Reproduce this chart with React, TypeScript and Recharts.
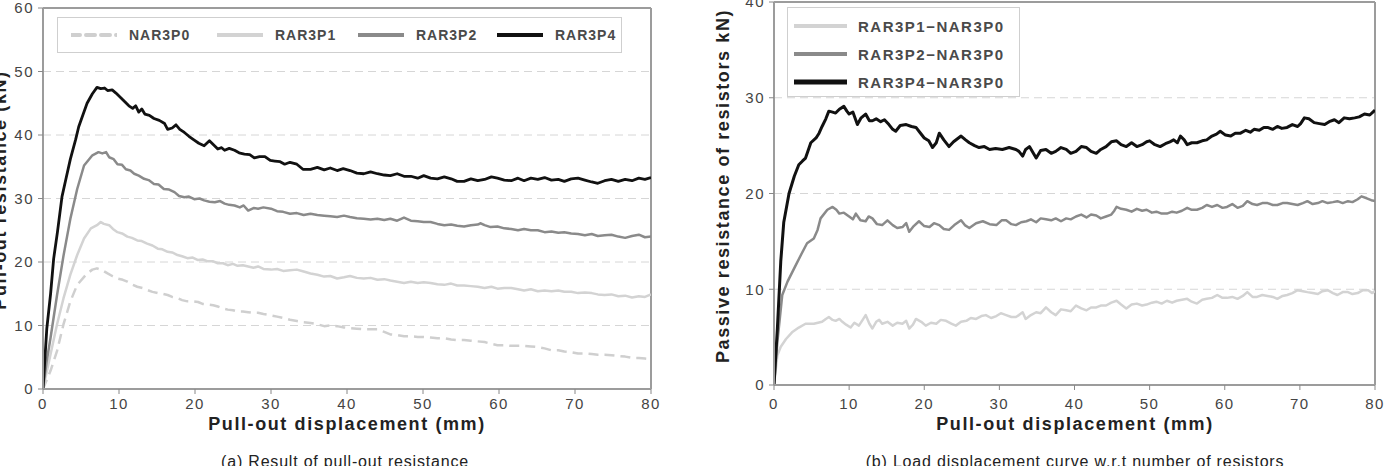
import React from "react";
import { LineChart, Line, XAxis, YAxis, CartesianGrid, ReferenceLine } from "recharts";

// ---------- Data: (a) pull-out resistance, [displacement mm, load kN] ----------
const nar3p0 = [
  [0, 0], [1, 2.9], [1.85, 6], [2.7, 10.2], [3.6, 13.8], [4.5, 16.4], [5.8, 18.2], [6.5, 18.8], [7.1, 19.0], [7.8, 18.7],
  [8.5, 18.2], [9.1, 17.8], [9.8, 17.4], [10.5, 17.2], [11.1, 16.9], [11.8, 16.4], [12.4, 16.1], [13.1, 15.9], [13.7, 15.6],
  [14.4, 15.3], [15.1, 15.1], [15.7, 15.0], [16.4, 14.8], [17.0, 14.5], [17.7, 14.3], [18.3, 14.0], [19.0, 13.8], [19.7, 13.8],
  [20.4, 13.7], [21.0, 13.4], [21.7, 13.3], [22.4, 13.2], [23.0, 13.0], [23.7, 12.7], [24.3, 12.5], [25.0, 12.4], [25.6, 12.2],
  [26.3, 12.2], [27.0, 12.1], [27.7, 12.0], [28.3, 12.0], [29.0, 11.8], [30.0, 11.6], [30.8, 11.4], [31.6, 11.2], [32.5, 10.9],
  [33.4, 10.7], [34.3, 10.5], [35.2, 10.4], [36.1, 10.2], [37.0, 9.9], [37.8, 10.0], [38.7, 9.9], [39.6, 9.7], [40.4, 9.6],
  [41.3, 9.5], [42.2, 9.4], [43.1, 9.4], [44.0, 9.4], [44.9, 9.0], [45.7, 8.6], [46.6, 8.5], [47.5, 8.3], [48.4, 8.3], [49.3, 8.2],
  [50.1, 8.2], [51.0, 8.1], [51.9, 8.0], [52.8, 8.0], [53.7, 7.8], [54.5, 7.7], [55.4, 7.7], [56.3, 7.6], [57.2, 7.5], [58.1, 7.4],
  [59.0, 7.1], [59.8, 6.9], [60.7, 6.9], [61.6, 6.8], [62.5, 6.8], [63.3, 6.8], [64.2, 6.7], [65.1, 6.6], [66.0, 6.4], [66.9, 6.1],
  [67.8, 6.1], [68.6, 5.9], [69.5, 5.8], [70.4, 5.6], [71.3, 5.6], [72.2, 5.5], [73.0, 5.4], [73.9, 5.4], [74.8, 5.3], [75.7, 5.2],
  [76.6, 5.1], [77.5, 4.9], [78.4, 4.9], [79.2, 4.8], [80, 4.7],
];
const rar3p1 = [
  [0, 0], [1, 5.5], [1.85, 10.2], [2.7, 14.3], [3.6, 18], [4.5, 21.1], [5.4, 23.7], [6.3, 25.3], [7.1, 25.8], [7.6, 26.3],
  [8.0, 26.0], [8.7, 25.8], [9.2, 25.2], [9.8, 24.7], [10.4, 24.5], [11.1, 24.0], [11.7, 23.8], [12.4, 23.4], [13.0, 23.3],
  [13.7, 22.9], [14.4, 22.6], [15.1, 22.1], [15.7, 22.0], [16.4, 21.6], [17.0, 21.5], [17.7, 21.1], [18.3, 20.9], [19.0, 20.6],
  [19.7, 20.7], [20.4, 20.3], [21.0, 20.4], [21.7, 20.1], [22.4, 20.1], [23.0, 19.8], [23.7, 19.8], [24.3, 19.5], [25.0, 19.7],
  [25.6, 19.4], [26.3, 19.5], [27.0, 19.3], [27.7, 19.1], [28.3, 19.3], [29.0, 18.9], [30.0, 18.8], [30.8, 18.9], [31.6, 18.6],
  [32.5, 18.7], [33.4, 18.8], [34.3, 18.5], [35.2, 18.2], [36.1, 18.0], [37.0, 17.7], [37.8, 17.8], [38.7, 17.4], [39.6, 17.6],
  [40.4, 17.8], [41.3, 17.5], [42.2, 17.4], [43.1, 17.5], [44.0, 17.2], [44.9, 17.3], [45.7, 17.1], [46.6, 16.9], [47.5, 16.7],
  [48.4, 16.9], [49.3, 16.7], [50.1, 16.8], [51.0, 16.7], [51.9, 16.5], [52.8, 16.4], [53.7, 16.6], [54.5, 16.3], [55.4, 16.3],
  [56.3, 16.2], [57.2, 16.1], [58.1, 15.9], [59.0, 16.1], [59.8, 15.8], [60.7, 15.9], [61.6, 15.9], [62.5, 15.7], [63.3, 15.5],
  [64.2, 15.7], [65.1, 15.4], [66.0, 15.5], [66.9, 15.4], [67.8, 15.5], [68.6, 15.3], [69.5, 15.3], [70.4, 15.1], [71.3, 15.2],
  [72.2, 15.1], [73.0, 14.9], [73.9, 14.8], [74.8, 14.9], [75.7, 14.6], [76.6, 14.7], [77.5, 14.4], [78.4, 14.6], [79.2, 14.5],
  [80, 14.9],
];
const rar3p2 = [
  [0, 0], [0.5, 4.5], [1, 8.1], [1.85, 14.8], [2.7, 21], [3.6, 26.8], [4.5, 31.5], [5.4, 35.2], [6.5, 36.8], [7.3, 37.3],
  [7.8, 37.1], [8.3, 37.3], [8.7, 36.5], [9.3, 36.2], [9.8, 35.4], [10.4, 35.3], [10.9, 34.6], [11.5, 34.4], [12.0, 33.9],
  [12.6, 33.6], [13.3, 33.1], [13.9, 32.9], [14.6, 32.3], [15.2, 32.2], [15.9, 31.5], [16.6, 31.4], [17.3, 31.0], [17.9, 30.4],
  [18.6, 30.2], [19.2, 30.3], [19.9, 29.9], [20.6, 30.0], [21.2, 29.7], [21.9, 29.5], [22.6, 29.4], [23.3, 29.6], [23.9, 29.2],
  [24.5, 29.0], [25.2, 28.9], [25.9, 28.6], [26.4, 28.9], [27.0, 28.1], [27.7, 28.5], [28.3, 28.4], [29.0, 28.6], [30.0, 28.4],
  [30.8, 28.0], [31.6, 27.9], [32.5, 27.6], [33.4, 27.7], [34.3, 27.4], [35.2, 27.6], [36.1, 27.4], [37.0, 27.3], [37.8, 27.2],
  [38.7, 27.1], [39.6, 27.3], [40.4, 27.1], [41.3, 26.9], [42.2, 26.8], [43.1, 26.7], [44.0, 26.8], [44.9, 26.6], [45.7, 26.8],
  [46.6, 26.5], [47.5, 27.0], [48.4, 26.5], [49.3, 26.4], [50.1, 26.3], [51.0, 26.3], [51.9, 26.0], [52.8, 25.8], [53.7, 25.9],
  [54.5, 25.7], [55.4, 25.6], [56.3, 25.8], [57.2, 25.9], [57.6, 26.1], [58.1, 25.8], [58.9, 25.5], [59.8, 25.6], [60.7, 25.3],
  [61.6, 25.2], [62.5, 25.0], [63.3, 25.2], [64.2, 25.0], [65.1, 25.0], [66.0, 24.7], [66.9, 24.8], [67.8, 24.6], [68.6, 24.7],
  [69.5, 24.5], [70.4, 24.4], [71.3, 24.2], [72.2, 24.4], [73.0, 24.1], [73.9, 24.2], [74.8, 24.3], [75.7, 24.0], [76.6, 23.8],
  [77.5, 24.1], [78.4, 24.3], [79.2, 23.9], [80, 24.0],
];
const rar3p4 = [
  [0, 0], [0.5, 9.5], [1, 15], [1.4, 20.5], [1.9, 24.7], [2.5, 30.3], [3, 33], [3.6, 36.2], [4.3, 39.3], [4.7, 41.3], [5.2, 43],
  [5.8, 45], [6.5, 46.5], [7.1, 47.5], [7.6, 47.3], [8.1, 47.4], [8.5, 47.0], [9.1, 47.1], [9.6, 46.6], [10.2, 45.9], [10.7, 45.3],
  [11.3, 44.6], [11.8, 44.2], [12.2, 44.6], [12.6, 43.6], [13.0, 44.1], [13.4, 43.3], [14.0, 43.1], [14.6, 42.6], [15.3, 42.3],
  [16.0, 41.8], [16.4, 40.9], [17.0, 41.1], [17.5, 41.6], [18.0, 40.9], [18.6, 40.4], [19.2, 39.8], [19.9, 39.2], [20.5, 38.7],
  [21.2, 38.3], [21.9, 39.1], [22.5, 38.4], [23.0, 37.8], [23.5, 38.0], [23.9, 37.6], [24.5, 37.9], [25.2, 37.6], [25.8, 37.2],
  [26.5, 37.0], [27.2, 36.9], [27.8, 36.4], [28.5, 36.6], [29.2, 36.6], [29.9, 36.0], [30.5, 35.9], [31.2, 35.8], [31.8, 35.4],
  [32.5, 35.7], [33.4, 35.4], [34.2, 34.6], [35.2, 34.6], [36.1, 34.9], [37.0, 34.5], [37.8, 34.8], [38.7, 34.4], [39.5, 34.7],
  [40.4, 34.4], [41.3, 34.0], [42.2, 33.9], [43.1, 34.2], [44.0, 33.9], [44.9, 33.7], [45.7, 33.6], [46.6, 33.9], [47.5, 33.5],
  [48.4, 33.5], [49.3, 33.2], [50.1, 33.6], [51.0, 33.2], [51.9, 33.1], [52.8, 33.4], [53.7, 33.1], [54.5, 32.7], [55.4, 32.7],
  [56.3, 33.1], [57.2, 32.8], [58.1, 33.0], [59.0, 33.4], [59.8, 33.2], [60.7, 32.9], [61.6, 32.8], [62.5, 33.2], [63.3, 32.8],
  [64.2, 33.2], [65.1, 33.0], [66.0, 33.3], [66.9, 32.9], [67.8, 33.0], [68.6, 32.7], [69.5, 33.1], [70.4, 33.2], [71.3, 32.9],
  [72.2, 32.6], [73.0, 32.4], [73.9, 32.8], [74.8, 33.0], [75.7, 32.7], [76.6, 33.0], [77.5, 32.8], [78.4, 33.2], [79.2, 33.0],
  [80, 33.3],
];

// ---------- Data: (b) passive resistance of resistors ----------
const diffP1 = [
  [0, 0], [0.45, 3.1], [0.9, 4.0], [1.6, 4.8], [2.4, 5.5], [3.3, 6.0], [4.2, 6.4], [5.3, 6.4], [6.4, 6.6], [6.9, 6.9], [7.3, 7.1],
  [7.8, 6.8], [8.2, 6.7], [8.7, 6.9], [9.1, 6.6], [9.6, 6.3], [10.2, 6.0], [10.7, 6.5], [11.3, 6.2], [11.8, 6.8], [12.2, 7.3],
  [12.7, 6.4], [13.1, 5.9], [13.6, 6.6], [14.0, 6.8], [14.4, 6.4], [15.1, 6.6], [15.8, 6.2], [16.4, 6.5], [17.1, 6.4], [17.6, 6.7],
  [18.0, 5.9], [18.5, 6.3], [18.9, 6.9], [19.6, 6.6], [20.2, 6.2], [20.9, 6.5], [21.6, 6.4], [22.2, 6.8], [22.9, 6.7], [23.6, 6.4],
  [24.2, 6.2], [24.9, 6.6], [25.6, 6.7], [26.2, 7.0], [26.9, 6.9], [27.6, 7.2], [28.2, 7.3], [28.9, 7.0], [29.6, 7.2], [30.2, 7.5],
  [30.9, 7.3], [31.6, 7.1], [32.2, 7.1], [32.6, 7.3], [33.1, 7.6], [33.5, 6.9], [34.2, 7.3], [34.9, 7.6], [35.5, 7.5], [36.2, 8.1],
  [36.9, 7.6], [37.5, 7.3], [38.2, 7.9], [38.9, 7.8], [39.5, 7.7], [40.2, 8.3], [40.9, 8.0], [41.6, 7.8], [42.2, 8.1], [42.9, 8.1],
  [43.5, 8.3], [44.2, 8.3], [44.9, 8.6], [45.6, 8.8], [46.2, 8.4], [46.9, 8.0], [47.6, 8.4], [48.3, 8.5], [49.0, 8.3], [49.6, 8.4],
  [50.3, 8.6], [50.9, 8.7], [51.6, 8.5], [52.3, 8.8], [53.0, 8.6], [53.6, 8.8], [54.3, 8.9], [55.0, 9.0], [55.6, 8.7], [56.3, 8.5],
  [57.0, 8.9], [57.6, 9.0], [58.3, 9.1], [59.0, 9.4], [59.7, 9.1], [60.3, 9.1], [61.0, 9.2], [61.7, 9.0], [62.4, 9.3], [63.0, 9.7],
  [63.7, 9.2], [64.3, 9.2], [65.0, 9.4], [65.7, 9.3], [66.4, 9.2], [67.0, 9.0], [67.7, 9.3], [68.3, 9.4], [69.0, 9.6], [69.7, 9.9],
  [70.4, 9.8], [71.0, 9.7], [71.7, 9.6], [72.4, 9.5], [73.0, 9.8], [73.7, 9.9], [74.4, 9.6], [75.0, 9.4], [75.7, 9.7], [76.4, 9.7],
  [77.0, 9.5], [77.7, 9.6], [78.4, 9.9], [79.1, 9.9], [79.6, 9.6], [80, 9.8],
];
const diffP2 = [
  [0, 0], [0.45, 4.5], [1.1, 9.4], [1.8, 10.8], [2.7, 12.2], [3.6, 13.6], [4.4, 14.8], [5.3, 15.3], [5.8, 16.2], [6.2, 17.4],
  [7.1, 18.3], [7.8, 18.6], [8.3, 18.3], [8.7, 17.9], [9.3, 18.0], [10.0, 17.6], [10.5, 17.3], [10.9, 17.9], [11.5, 17.2],
  [12.2, 17.1], [12.6, 17.6], [13.1, 17.4], [13.7, 16.8], [14.4, 16.7], [15.1, 17.2], [15.8, 16.7], [16.4, 16.4], [17.1, 16.5],
  [17.6, 16.9], [18.0, 16.0], [18.6, 16.6], [19.3, 17.1], [20.0, 16.6], [20.7, 16.5], [21.3, 16.9], [22.0, 16.7], [22.6, 16.3],
  [23.3, 16.2], [24.0, 16.7], [24.9, 17.2], [25.4, 16.7], [26.0, 16.4], [26.9, 16.9], [27.8, 17.1], [28.7, 16.8], [29.6, 16.7],
  [30.3, 17.2], [30.9, 17.2], [31.6, 16.8], [32.2, 16.7], [32.9, 17.0], [33.6, 17.1], [34.2, 17.3], [34.9, 17.0], [35.5, 17.4],
  [36.2, 17.3], [36.9, 17.2], [37.5, 17.4], [38.2, 17.1], [38.9, 17.4], [39.5, 17.3], [40.2, 17.6], [40.9, 17.8], [41.6, 17.5],
  [42.2, 17.8], [42.9, 17.7], [43.5, 17.4], [44.2, 17.6], [44.9, 17.8], [45.3, 18.2], [45.6, 18.6], [46.2, 18.4], [46.9, 18.3],
  [47.6, 18.1], [48.3, 18.4], [49.0, 18.2], [49.6, 18.3], [50.3, 18.0], [50.9, 18.1], [51.6, 17.9], [52.3, 17.9], [53.0, 18.1],
  [53.6, 18.0], [54.3, 18.2], [55.0, 18.5], [55.6, 18.3], [56.3, 18.3], [57.0, 18.5], [57.6, 18.8], [58.3, 18.6], [59.0, 18.8],
  [59.7, 18.5], [60.3, 18.6], [61.0, 18.9], [61.7, 18.5], [62.4, 18.7], [63.0, 19.2], [63.7, 18.9], [64.3, 18.8], [65.0, 19.0],
  [65.7, 19.0], [66.4, 18.8], [67.0, 18.8], [67.7, 19.0], [68.3, 19.0], [69.0, 18.9], [69.7, 18.8], [70.4, 19.0], [71.0, 19.2],
  [71.7, 18.9], [72.4, 19.0], [73.0, 19.2], [73.7, 19.0], [74.4, 19.1], [75.0, 19.2], [75.7, 19.0], [76.4, 19.2], [77.0, 19.1],
  [77.7, 19.4], [78.2, 19.7], [78.9, 19.5], [79.5, 19.3], [80, 19.2],
];
const diffP4 = [
  [0, 0], [0.45, 5.9], [0.9, 12.9], [1.3, 17], [2.0, 20], [2.7, 21.8], [3.3, 23], [3.8, 23.4], [4.2, 23.7], [4.9, 25.3],
  [5.6, 25.8], [6.0, 26.3], [6.4, 27], [6.9, 27.8], [7.3, 28.6], [7.8, 28.5], [8.2, 28.4], [8.7, 28.8], [9.3, 29.1], [9.7, 28.6],
  [10.0, 28.3], [10.5, 28.5], [11.1, 27.2], [11.6, 27.9], [12.2, 28.3], [12.7, 27.6], [13.1, 27.6], [13.6, 27.8], [14.2, 27.5],
  [14.7, 27.7], [15.3, 27.2], [15.8, 26.7], [16.2, 26.5], [16.8, 27.1], [17.6, 27.2], [18.3, 27.0], [18.9, 26.9], [19.4, 26.4],
  [20.0, 25.8], [20.6, 25.5], [21.1, 24.8], [21.6, 25.3], [22.0, 26.3], [22.6, 25.6], [23.3, 24.9], [23.9, 25.4], [24.9, 26.0],
  [25.5, 25.6], [26.0, 25.3], [26.7, 25.0], [27.3, 24.8], [28.0, 24.9], [28.7, 24.6], [29.5, 24.7], [30.4, 24.6], [31.3, 24.8],
  [32.2, 24.6], [32.6, 24.4], [33.1, 23.9], [33.5, 24.6], [34.0, 24.9], [34.9, 23.7], [35.5, 24.5], [36.2, 24.6], [36.9, 24.2],
  [37.5, 24.4], [38.2, 24.8], [38.9, 24.6], [39.5, 24.2], [40.2, 24.4], [40.9, 24.9], [41.6, 24.8], [42.2, 24.4], [42.9, 24.2],
  [43.5, 24.6], [44.2, 24.9], [44.9, 25.4], [45.6, 25.5], [46.2, 25.1], [46.9, 24.9], [47.6, 25.3], [48.3, 24.9], [49.0, 25.1],
  [49.6, 25.4], [50.0, 25.5], [50.7, 25.1], [51.4, 24.9], [52.1, 25.2], [52.7, 25.4], [53.2, 25.6], [53.7, 25.3], [54.1, 26.0],
  [54.6, 25.6], [55.0, 25.1], [55.6, 25.3], [56.3, 25.3], [57.0, 25.5], [57.6, 25.6], [58.3, 26.0], [58.9, 26.2], [59.4, 26.5],
  [60.1, 26.1], [60.8, 26.0], [61.4, 26.3], [62.1, 26.3], [62.8, 26.6], [63.4, 26.4], [63.9, 26.7], [64.6, 26.6], [65.2, 26.9],
  [65.7, 26.9], [66.4, 26.7], [67.0, 27.0], [67.6, 26.8], [68.3, 26.9], [69.0, 27.2], [69.7, 27.0], [70.1, 27.3], [70.6, 27.9],
  [71.2, 27.8], [71.9, 27.4], [72.6, 27.3], [73.3, 27.2], [73.9, 27.5], [74.6, 27.7], [75.2, 27.4], [75.9, 27.9], [76.6, 27.8],
  [77.3, 27.9], [77.9, 28.0], [78.6, 28.3], [79.3, 28.2], [80, 28.7],
];

const xTicks = [0, 10, 20, 30, 40, 50, 60, 70, 80];
const yTicksA = [0, 10, 20, 30, 40, 50, 60];
const yTicksB = [0, 10, 20, 30, 40];

const seriesA = [
  { name: "NAR3P0", pts: nar3p0, color: "#cfcfcf", dash: "10 6", width: 2.5 },
  { name: "RAR3P1", pts: rar3p1, color: "#d3d3d3", dash: undefined, width: 2.5 },
  { name: "RAR3P2", pts: rar3p2, color: "#8a8a8a", dash: undefined, width: 2.5 },
  { name: "RAR3P4", pts: rar3p4, color: "#111111", dash: undefined, width: 2.8 },
];
const seriesB = [
  { name: "RAR3P1\u2212NAR3P0", pts: diffP1, color: "#d3d3d3", dash: undefined, width: 2.5 },
  { name: "RAR3P2\u2212NAR3P0", pts: diffP2, color: "#8a8a8a", dash: undefined, width: 2.5 },
  { name: "RAR3P4\u2212NAR3P0", pts: diffP4, color: "#111111", dash: undefined, width: 3 },
];

const toData = (pts: number[][]) => pts.map(([x, y]) => ({ x, y }));

const FONT = '"Liberation Sans", Arial, Helvetica, sans-serif';
const tickStyle = { fontFamily: FONT, fontSize: 15, fill: "#444", letterSpacing: 1.5 };
const BORDER = "#9c9c9c";

type PanelProps = {
  width: number;
  height: number;
  margin: { top: number; right: number; bottom: number; left: number };
  yMax: number;
  yTicks: number[];
  series: typeof seriesA;
  tickMarginX: number;
};

function Panel({ width, height, margin, yMax, yTicks, series, tickMarginX }: PanelProps) {
  return (
    <LineChart width={width} height={height} margin={margin}>
      <CartesianGrid vertical={false} stroke="#d6d6d6" strokeDasharray="8 5" horizontalValues={yTicks} />
      <XAxis
        type="number"
        dataKey="x"
        domain={[0, 80]}
        ticks={xTicks}
        interval={0}
        height={30}
        tick={tickStyle}
        tickSize={5}
        tickMargin={tickMarginX}
        axisLine={{ stroke: BORDER, strokeWidth: 2 }}
        tickLine={{ stroke: "#888" }}
        allowDataOverflow
      />
      <YAxis
        type="number"
        domain={[0, yMax]}
        ticks={yTicks}
        interval={0}
        width={35}
        tick={tickStyle}
        tickSize={5}
        tickMargin={4}
        axisLine={{ stroke: BORDER, strokeWidth: 2 }}
        tickLine={{ stroke: "#888" }}
        allowDataOverflow
      />
      <ReferenceLine y={yMax} stroke={BORDER} strokeWidth={2} />
      <ReferenceLine x={80} stroke={BORDER} strokeWidth={2} />
      {series.map((s) => (
        <Line
          key={s.name}
          data={toData(s.pts)}
          dataKey="y"
          name={s.name}
          type="linear"
          stroke={s.color}
          strokeWidth={s.width}
          strokeDasharray={s.dash}
          strokeLinejoin="round"
          dot={false}
          activeDot={false}
          isAnimationActive={false}
        />
      ))}
    </LineChart>
  );
}

function LegendSwatch({ color, dash, w, h }: { color: string; dash?: string; w: number; h: number }) {
  return (
    <svg width={w} height={10} style={{ display: "block" }}>
      <line x1={0} y1={5} x2={w} y2={5} stroke={color} strokeWidth={h} strokeDasharray={dash} strokeLinecap="round" />
    </svg>
  );
}

const legendText = { fontFamily: FONT, fontSize: 14, fontWeight: 700, color: "#4a4a4a", letterSpacing: 1 } as const;
const legendTextB = { fontFamily: FONT, fontSize: 15, fontWeight: 700, color: "#4a4a4a", letterSpacing: 1.5 } as const;
const titleStyle = { fontFamily: FONT, fontSize: 18, fontWeight: 700, color: "#222", letterSpacing: 1.6, whiteSpace: "nowrap" } as const;
const captionStyle = { fontFamily: FONT, fontSize: 16, color: "#222", letterSpacing: 0.8, whiteSpace: "nowrap" } as const;

export default function App() {
  const legendAPos = [70, 216, 357, 496];
  return (
    <div style={{ position: "absolute", left: 0, top: 0, width: 1389, height: 466, overflow: "hidden", background: "#fff" }}>
      {/* Panel (a) */}
      <div style={{ position: "absolute", left: 0, top: 0 }}>
        <Panel
          width={700}
          height={466}
          margin={{ top: 8, right: 49, bottom: 47, left: 8 }}
          yMax={60}
          yTicks={yTicksA}
          series={seriesA}
          tickMarginX={4}
        />
      </div>
      {/* Panel (b) */}
      <div style={{ position: "absolute", left: 690, top: 0 }}>
        <Panel
          width={699}
          height={466}
          margin={{ top: 2, right: 14, bottom: 51, left: 49 }}
          yMax={40}
          yTicks={yTicksB}
          series={seriesB}
          tickMarginX={8}
        />
      </div>

      {/* Legend (a) */}
      <div
        style={{
          position: "absolute",
          left: 57,
          top: 17,
          width: 565,
          height: 36,
          border: "1.5px solid #cfcfcf",
          boxSizing: "border-box",
          background: "#fff",
        }}
      >
        {seriesA.map((s, i) => (
          <div key={s.name} style={{ position: "absolute", left: legendAPos[i] - 57, top: 0, height: 33, display: "flex", alignItems: "center" }}>
            <LegendSwatch color={s.color} dash={s.dash ? "9 6" : undefined} w={46} h={4} />
            <span style={{ ...legendText, marginLeft: 12 }}>{s.name}</span>
          </div>
        ))}
      </div>

      {/* Legend (b) */}
      <div
        style={{
          position: "absolute",
          left: 787,
          top: 7,
          width: 233,
          height: 90,
          border: "1.5px solid #cfcfcf",
          boxSizing: "border-box",
          background: "#fff",
        }}
      >
        {seriesB.map((s, i) => (
          <div key={s.name} style={{ position: "absolute", left: 6, top: 7 + i * 28, height: 22, display: "flex", alignItems: "center" }}>
            <LegendSwatch color={s.color} dash={s.dash} w={53} h={s.color === "#111111" ? 5 : 4} />
            <span style={{ ...legendTextB, marginLeft: 11 }}>{s.name}</span>
          </div>
        ))}
      </div>

      {/* Axis titles */}
      <div style={{ ...titleStyle, position: "absolute", left: 347, top: 424, transform: "translate(-50%, -50%)" }}>
        Pull-out displacement (mm)
      </div>
      <div style={{ ...titleStyle, position: "absolute", left: 1075, top: 424, transform: "translate(-50%, -50%)" }}>
        Pull-out displacement (mm)
      </div>
      <div style={{ ...titleStyle, position: "absolute", left: 0, top: 190, transform: "translate(-50%, -50%) rotate(-90deg)" }}>
        Pull-out resistance (kN)
      </div>
      <div style={{ ...titleStyle, position: "absolute", left: 723, top: 186, transform: "translate(-50%, -50%) rotate(-90deg)" }}>
        Passive resistance of resistors kN)
      </div>

      {/* Captions */}
      <div style={{ ...captionStyle, position: "absolute", left: 345, top: 453, transform: "translateX(-50%)" }}>
        (a) Result of pull-out resistance
      </div>
      <div style={{ ...captionStyle, position: "absolute", left: 1075, top: 453, transform: "translateX(-50%)" }}>
        (b) Load displacement curve w.r.t number of resistors
      </div>
    </div>
  );
}
